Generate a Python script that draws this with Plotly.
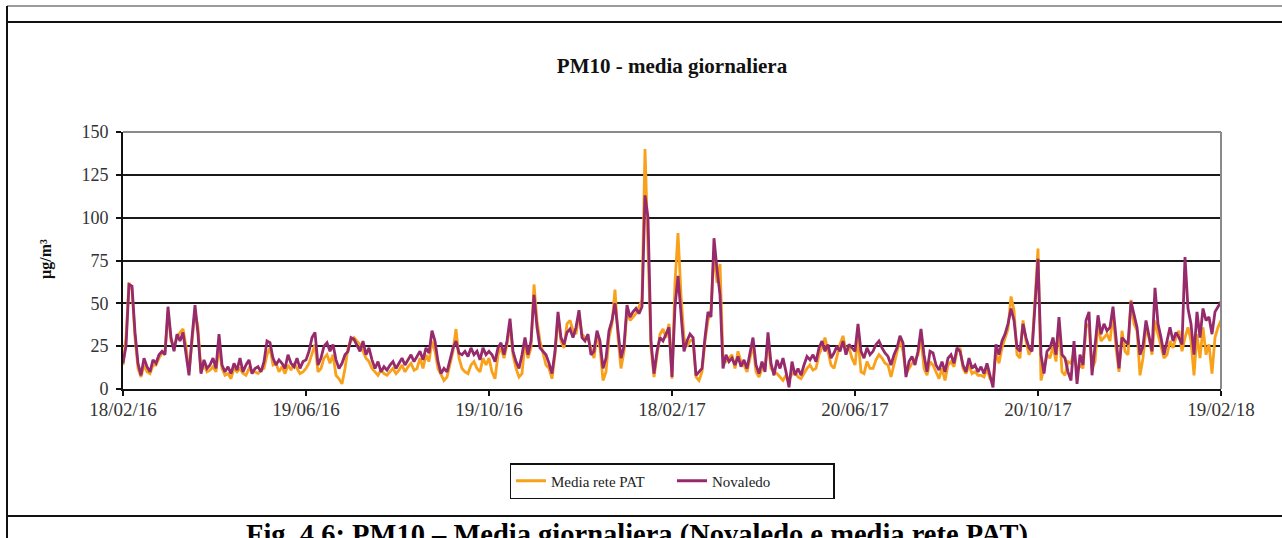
import pandas as pd
import plotly.graph_objects as go

# ---- data (one value every 2 days) ----
start_date = "2016-02-18"
step_days = 2

novaledo = [
    15,25,61,60,33,15,8,18,13,10,17,15,20,22,20,48,30,22,32,28,33,20,8,30,49,32,9,17,12,14,18,12,32,14,10,13,9,15,11,18,10,14,17,9,12,13,10,16,28,27,18,14,17,15,12,20,15,13,18,12,16,
    17,22,30,33,14,18,25,27,22,26,17,12,15,20,22,30,29,25,22,28,20,24,17,12,16,10,13,11,14,16,12,15,18,14,17,20,16,19,22,17,24,21,34,28,16,9,12,10,18,24,28,21,20,22,19,24,20,22,17,24,20,
    22,20,16,24,27,20,28,41,22,16,12,20,30,20,28,55,36,24,22,20,15,9,22,45,30,26,33,35,30,36,46,30,28,32,20,22,34,28,12,18,34,40,50,32,18,25,49,42,45,47,44,48,113,100,28,9,22,30,28,32,36,
    7,48,66,45,22,28,32,30,8,10,12,30,45,42,88,70,55,12,20,16,18,14,19,13,17,12,20,30,14,9,16,10,33,15,8,17,12,18,10,1,16,8,12,8,14,19,17,20,16,24,28,22,26,18,21,25,22,28,20,26,24,
    22,38,22,18,24,20,22,26,28,24,21,19,14,20,24,31,27,7,16,19,14,22,35,20,10,22,21,14,11,16,10,18,20,15,24,22,14,10,18,12,14,10,13,9,15,8,1,26,20,28,32,38,47,40,24,22,38,30,24,22,50,
    76,20,9,22,24,30,20,42,20,18,10,5,28,3,20,14,40,45,8,25,43,32,38,34,36,48,32,12,30,28,26,51,44,36,20,25,40,32,22,59,38,30,20,28,36,28,33,30,26,77,47,38,20,45,30,47,40,42,32,45,48,51,
]

media_rete_pat = [
    14,30,62,58,30,12,7,14,10,9,14,14,18,21,22,45,28,25,30,33,35,25,10,28,45,36,10,14,10,11,13,10,25,12,8,9,6,12,10,12,9,8,12,10,10,9,11,12,20,24,14,15,10,13,9,14,11,15,12,9,10,
    12,15,20,26,10,12,18,20,15,20,8,6,3,12,24,28,30,28,26,22,18,16,12,10,8,11,9,8,10,12,9,11,14,10,13,15,11,12,18,12,20,16,28,22,12,8,5,7,14,22,35,18,12,10,9,14,16,12,10,18,14,
    18,10,6,20,24,18,26,38,20,12,7,9,27,18,24,61,40,28,20,14,12,6,20,42,28,24,38,40,34,32,44,32,30,29,24,18,32,24,5,10,30,38,58,30,12,22,46,40,42,44,48,52,140,82,24,7,20,32,35,30,38,
    6,62,91,55,30,25,28,29,7,5,10,28,40,46,80,62,73,18,16,18,20,12,22,16,14,10,18,26,10,7,12,12,28,12,10,9,7,5,8,5,9,10,7,6,9,12,14,11,12,20,24,30,22,14,12,20,26,31,22,24,18,
    14,30,10,9,16,12,12,17,20,18,15,14,7,14,22,29,22,9,12,15,17,20,30,12,8,16,14,10,6,12,5,14,16,13,22,24,12,9,14,9,10,8,8,7,12,6,4,22,15,24,30,35,54,46,20,18,40,28,20,24,52,
    82,5,12,20,18,25,16,38,10,8,16,15,22,10,14,12,36,38,12,16,38,28,30,32,28,44,24,10,34,22,20,52,38,34,8,18,36,30,20,40,32,24,18,20,28,24,30,34,22,30,36,28,8,32,18,36,20,26,9,30,36,40,
]

tick_dates = ["2016-02-18", "2016-06-19", "2016-10-19", "2017-02-18",
              "2017-06-20", "2017-10-20", "2018-02-19"]
tick_labels = ["18/02/16", "19/06/16", "19/10/16", "18/02/17",
               "20/06/17", "20/10/17", "19/02/18"]
y_ticks = [0, 25, 50, 75, 100, 125, 150]

dates = pd.date_range(start_date, periods=len(novaledo), freq=f"{step_days}D")

SERIF = "Liberation Serif, Times New Roman, serif"
ORANGE = "#F9A11B"
PURPLE = "#972A6B"

fig = go.Figure()
fig.add_trace(go.Scatter(x=dates, y=media_rete_pat, mode="lines", name="Media rete PAT",
                         line=dict(color=ORANGE, width=2.8)))
fig.add_trace(go.Scatter(x=dates, y=novaledo, mode="lines", name="Novaledo",
                         line=dict(color=PURPLE, width=2.8)))

# geometry helpers (pixel -> paper)
L, R, T, B = 123, 1221, 132, 389
W, H = 1282, 538
def px(x):
    return (x - L) / (R - L)
def py(y):
    return (B - y) / (B - T)

fig.update_layout(
    width=W, height=H, autosize=False,
    margin=dict(l=L, r=W - R, t=T, b=H - B),
    paper_bgcolor="white", plot_bgcolor="white",
    font=dict(family=SERIF, color="#222"),
    title=dict(text="<b>PM10 - media giornaliera</b>", x=0.5, xref="paper",
               xanchor="center", y=1 - 66 / H, yanchor="middle",
               font=dict(size=21, family=SERIF, color="#111")),
    showlegend=True,
    legend=dict(orientation="h", x=px(672), xanchor="center", y=py(463), yanchor="top",
                bordercolor="#111", borderwidth=1.5, bgcolor="white",
                font=dict(size=15, family=SERIF, color="#222"),
                entrywidth=116, tracegroupgap=0),
    xaxis=dict(range=[tick_dates[0], tick_dates[-1]], tickvals=tick_dates, ticktext=tick_labels,
               showgrid=False, zeroline=False, showline=True, linecolor="#111", linewidth=2,
               ticks="outside", ticklen=5, tickwidth=1.5, tickcolor="#111",
               ticklabelstandoff=-3,
               tickfont=dict(size=19, family=SERIF, color="#333")),
    yaxis=dict(range=[0, 150], tickvals=y_ticks, showgrid=True, gridcolor="#1a1a1a", gridwidth=2,
               zeroline=False, showline=True, linecolor="#111", linewidth=2,
               ticks="outside", ticklen=5, tickwidth=1.5, tickcolor="#111",
               ticklabelstandoff=4,
               tickfont=dict(size=18, family=SERIF, color="#333")),
    hovermode=False,
)

shapes = [
    # plot-area border (top, right) in grey
    dict(type="line", xref="paper", yref="paper", x0=0, x1=1, y0=1, y1=1,
         line=dict(color="#8a8a8a", width=2), layer="above"),
    dict(type="line", xref="paper", yref="paper", x0=1, x1=1, y0=0, y1=1,
         line=dict(color="#8a8a8a", width=2), layer="above"),
    # outer page frame
    dict(type="line", xref="paper", yref="paper", x0=px(7), x1=px(1282), y0=py(6), y1=py(6),
         line=dict(color="#7a7a7a", width=1.5)),
    dict(type="line", xref="paper", yref="paper", x0=px(7), x1=px(1282), y0=py(22), y1=py(22),
         line=dict(color="#111", width=2)),
    dict(type="line", xref="paper", yref="paper", x0=px(7), x1=px(1282), y0=py(516), y1=py(516),
         line=dict(color="#111", width=2)),
    dict(type="line", xref="paper", yref="paper", x0=px(7), x1=px(7), y0=py(6), y1=py(538),
         line=dict(color="#111", width=2)),
]
fig.update_layout(shapes=shapes)

fig.add_annotation(text="<b>µg/m³</b>", xref="paper", yref="paper", x=px(46), y=py(259),
                   textangle=-90, showarrow=False, xanchor="center", yanchor="middle",
                   font=dict(size=16, family=SERIF, color="#111"))
fig.add_annotation(text="<b>Fig. 4.6: PM10 – Media giornaliera (Novaledo e media rete PAT).</b>",
                   xref="paper", yref="paper", x=px(640), y=py(517), showarrow=False,
                   xanchor="center", yanchor="top",
                   font=dict(size=28.5, family=SERIF, color="#000"))

fig.write_html("out.html",
               config={"displayModeBar": False},
               post_script="document.body.style.margin='0px';document.body.style.overflow='hidden';")
